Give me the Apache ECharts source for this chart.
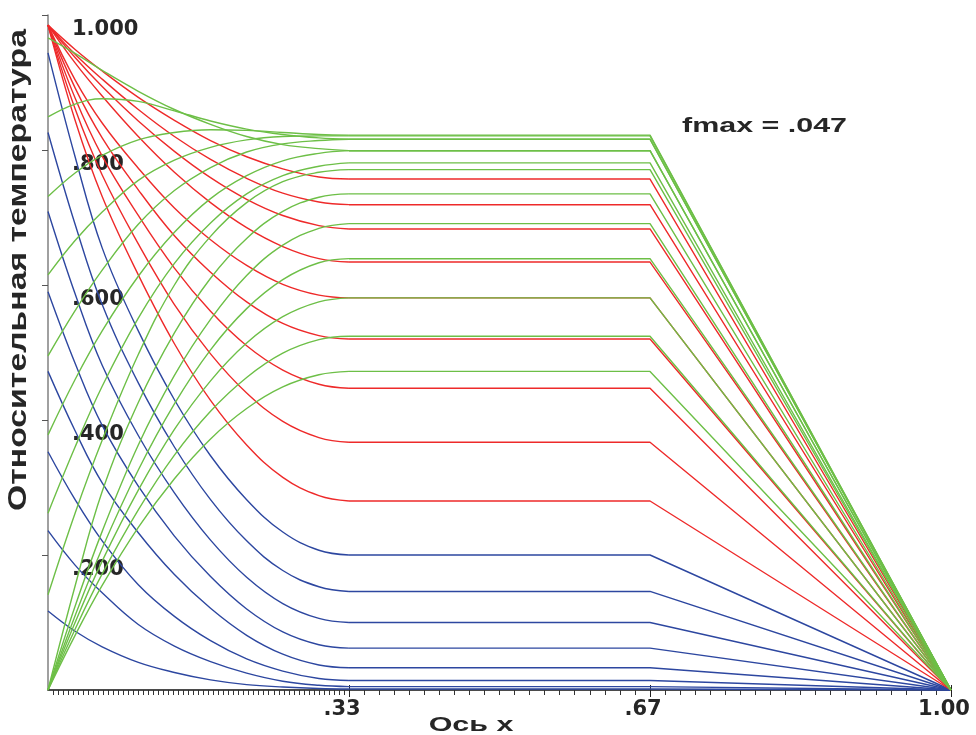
<!DOCTYPE html>
<html>
<head>
<meta charset="utf-8">
<script src="https://cdn.jsdelivr.net/npm/echarts@6/dist/echarts.min.js"></script>
<style>
html,body{margin:0;padding:0;background:#fff;}
#chart{width:976px;height:735px;}
</style>
</head>
<body>
<div id="chart"></div>
<script>
// x positions of the sampled points in the first zone (0 .. 1/3)
const X_ZONE1 = [0, 0.03, 0.06, 0.10, 0.14, 0.18, 0.22, 0.26, 0.30, 0.3333];
// x positions of plateau start, knee and right end
const X_ZONE23 = [0.3333, 0.6667, 1.0];
const END_VALUE = 0;

// blue curves (values at X_ZONE1; last value = plateau)
const BLUE_1 = [0.117, 0.087, 0.064, 0.041, 0.026, 0.015, 0.008, 0.0044, 0.0022, 0.0015];
const BLUE_2 = [0.236, 0.185, 0.144, 0.097, 0.065, 0.042, 0.025, 0.013, 0.007, 0.005];
const BLUE_3 = [0.353, 0.282, 0.221, 0.156, 0.109, 0.073, 0.046, 0.028, 0.017, 0.014];
const BLUE_4 = [0.472, 0.384, 0.307, 0.233, 0.171, 0.121, 0.081, 0.053, 0.037, 0.033];
const BLUE_5 = [0.590, 0.484, 0.392, 0.302, 0.228, 0.168, 0.120, 0.086, 0.067, 0.062];
const BLUE_6 = [0.709, 0.587, 0.481, 0.377, 0.292, 0.222, 0.167, 0.128, 0.106, 0.100];
const BLUE_7 = [0.826, 0.690, 0.571, 0.455, 0.360, 0.282, 0.221, 0.177, 0.153, 0.146];
const BLUE_8 = [0.944, 0.790, 0.655, 0.532, 0.430, 0.347, 0.282, 0.234, 0.207, 0.200];

// red curves
const RED_1 = [0.985, 0.844, 0.731, 0.615, 0.513, 0.429, 0.363, 0.315, 0.288, 0.280];
const RED_2 = [0.985, 0.861, 0.763, 0.661, 0.571, 0.498, 0.440, 0.398, 0.374, 0.367];
const RED_3 = [0.985, 0.877, 0.791, 0.703, 0.625, 0.561, 0.510, 0.474, 0.453, 0.447];
const RED_4 = [0.985, 0.892, 0.818, 0.741, 0.673, 0.619, 0.575, 0.543, 0.525, 0.520];
const RED_5 = [0.985, 0.904, 0.840, 0.773, 0.714, 0.667, 0.629, 0.601, 0.585, 0.581];
const RED_6 = [0.985, 0.929, 0.880, 0.820, 0.767, 0.722, 0.685, 0.657, 0.639, 0.634];
const RED_7 = [0.985, 0.937, 0.894, 0.843, 0.798, 0.759, 0.727, 0.703, 0.688, 0.683];
const RED_8 = [0.985, 0.942, 0.905, 0.860, 0.820, 0.786, 0.758, 0.736, 0.723, 0.719];
const RED_9 = [0.985, 0.949, 0.917, 0.878, 0.844, 0.814, 0.790, 0.772, 0.760, 0.757];

// green curves
const GREEN_1 = [0.966, 0.943, 0.918, 0.887, 0.860, 0.838, 0.820, 0.808, 0.802, 0.799];
const GREEN_2 = [0.849, 0.868, 0.876, 0.872, 0.858, 0.843, 0.831, 0.823, 0.818, 0.816];
const GREEN_3 = [0.731, 0.766, 0.792, 0.815, 0.826, 0.830, 0.829, 0.826, 0.823, 0.822];
const GREEN_4 = [0.615, 0.666, 0.708, 0.755, 0.785, 0.804, 0.815, 0.820, 0.821, 0.821];
const GREEN_5 = [0.495, 0.562, 0.622, 0.690, 0.740, 0.774, 0.797, 0.809, 0.814, 0.816];
const GREEN_6 = [0.378, 0.460, 0.532, 0.613, 0.678, 0.728, 0.762, 0.784, 0.795, 0.799];
const GREEN_7 = [0.262, 0.360, 0.450, 0.551, 0.632, 0.692, 0.735, 0.762, 0.776, 0.781];
const GREEN_8 = [0.141, 0.262, 0.370, 0.497, 0.600, 0.672, 0.722, 0.753, 0.767, 0.771];
const GREEN_9 = [0, 0.154, 0.294, 0.426, 0.529, 0.610, 0.669, 0.709, 0.730, 0.735];
const GREEN_10 = [0, 0.124, 0.235, 0.363, 0.466, 0.549, 0.614, 0.659, 0.684, 0.691];
const GREEN_11 = [0, 0.110, 0.210, 0.326, 0.424, 0.504, 0.565, 0.608, 0.633, 0.639];
const GREEN_12 = [0, 0.100, 0.191, 0.296, 0.386, 0.458, 0.514, 0.553, 0.575, 0.581];
const GREEN_13 = [0, 0.090, 0.172, 0.267, 0.348, 0.413, 0.463, 0.499, 0.519, 0.524];
const GREEN_14 = [0, 0.081, 0.155, 0.241, 0.313, 0.372, 0.417, 0.449, 0.467, 0.472];

// tick labels
const X_TICK_VALUES = [1/3, 2/3, 1];
const X_TICK_LABELS = ['.33', '.67', '1.00'];
const Y_TICK_LABELS = ['', '.200', '.400', '.600', '.800', '1.000'];

const BLUE = [BLUE_1, BLUE_2, BLUE_3, BLUE_4, BLUE_5, BLUE_6, BLUE_7, BLUE_8];
const RED = [RED_1, RED_2, RED_3, RED_4, RED_5, RED_6, RED_7, RED_8, RED_9];
const GREEN = [GREEN_1, GREEN_2, GREEN_3, GREEN_4, GREEN_5, GREEN_6, GREEN_7,
  GREEN_8, GREEN_9, GREEN_10, GREEN_11, GREEN_12, GREEN_13, GREEN_14];

// minor tick positions along x (fine in the first third, coarser afterwards)
const minorTicks = [];
for (let i = 1; i < 60; i++) minorTicks.push(i / 180);
for (let j = 1; j < 40; j++) if (j !== 20) minorTicks.push(1/3 + j / 60);

const series = [];
function addFamily(curves, color) {
  curves.forEach(c => {
    const p = c[c.length - 1];
    series.push({
      type: 'line', showSymbol: false, silent: true, smooth: 0.4,
      lineStyle: { color: color, width: 1.4 },
      data: X_ZONE1.map((x, i) => [x, c[i]])
    });
    series.push({
      type: 'line', showSymbol: false, silent: true,
      lineStyle: { color: color, width: 1.4 },
      data: [[X_ZONE23[0], p], [X_ZONE23[1], p], [X_ZONE23[2], END_VALUE]]
    });
  });
}
addFamily(BLUE, '#2d47a0');
addFamily(RED, '#ee2a2a');
addFamily(GREEN, '#6dbf47');

const chart = echarts.init(document.getElementById('chart'), null, { renderer: 'canvas' });
const tickFont = { fontFamily: 'DejaVu Sans', fontWeight: 'bold', fontSize: 21, color: '#262626' };

chart.setOption({
  animation: false,
  backgroundColor: '#ffffff',
  grid: { left: 48, top: 15, width: 903, height: 675, containLabel: false },
  xAxis: [
    {
      type: 'value', min: 0, max: 1, gridIndex: 0,
      axisLine: { show: true, lineStyle: { color: '#111', width: 1.5 } },
      axisTick: { show: true, length: 7, customValues: X_TICK_VALUES, lineStyle: { color: '#222', width: 1 } },
      axisLabel: Object.assign({
        show: true, margin: 9, customValues: X_TICK_VALUES, padding: [0, 14, 0, 0],
        formatter: v => { const i = X_TICK_VALUES.findIndex(t => Math.abs(t - v) < 1e-6); return i >= 0 ? X_TICK_LABELS[i] : ''; }
      }, tickFont),
      splitLine: { show: false }
    },
    {
      type: 'value', min: 0, max: 1, gridIndex: 0, position: 'bottom',
      axisLine: { show: false },
      axisTick: { show: true, length: 5, customValues: minorTicks, lineStyle: { color: '#333', width: 1 } },
      axisLabel: { show: false },
      splitLine: { show: false }
    },
    {
      type: 'value', min: 0, max: 1, gridIndex: 0, position: 'bottom',
      axisLine: { show: false },
      axisTick: { show: true, inside: true, length: 5, customValues: X_TICK_VALUES, lineStyle: { color: '#222', width: 1 } },
      axisLabel: { show: false },
      splitLine: { show: false }
    }
  ],
  yAxis: {
    type: 'value', min: 0, max: 1, interval: 0.2,
    axisLine: { show: true, lineStyle: { color: '#808080', width: 1.5 } },
    axisTick: { show: true, length: 6, lineStyle: { color: '#555', width: 1 } },
    axisLabel: Object.assign({
      inside: true, margin: 24, verticalAlign: 'top', align: 'left', showMinLabel: false,
      padding: [4, 0, 0, 0],
      formatter: v => Y_TICK_LABELS[Math.round(v / 0.2)]
    }, tickFont),
    splitLine: { show: false }
  },
  graphic: [
    {
      type: 'text', x: 19, y: 270, rotation: Math.PI / 2, scaleX: 1.35,
      style: { text: 'Относительная температура', fontFamily: 'Liberation Sans', fontWeight: 'bold', fontSize: 25, fill: '#262626', align: 'center', verticalAlign: 'middle' }
    },
    {
      type: 'text', x: 471, y: 725, scaleX: 1.45,
      style: { text: 'Ось x', fontFamily: 'Liberation Sans', fontWeight: 'bold', fontSize: 21, fill: '#262626', align: 'center', verticalAlign: 'middle' }
    },
    {
      type: 'text', x: 682, y: 126, scaleX: 1.45,
      style: { text: 'fmax = .047', fontFamily: 'Liberation Sans', fontWeight: 'bold', fontSize: 21, fill: '#262626', align: 'left', verticalAlign: 'middle' }
    }
  ],
  series: series
});
</script>
</body>
</html>
